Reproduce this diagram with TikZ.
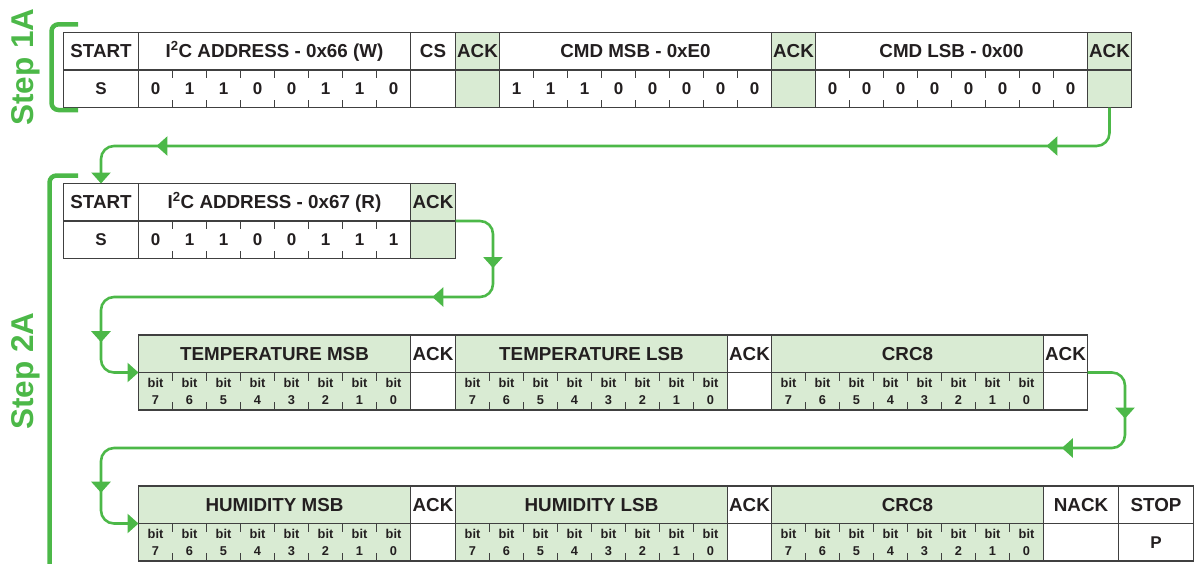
\documentclass[tikz,border=0pt]{standalone}
\usepackage{fontspec}
\setmainfont{Liberation Sans}
\usepackage{xcolor}
\usetikzlibrary{positioning,arrows.meta,calc,decorations.markings}
\definecolor{flowgreen}{HTML}{4CB848}
\definecolor{ackfill}{HTML}{D9EBD3}
\definecolor{rule}{HTML}{404040}
\definecolor{ink}{HTML}{231F20}
\newcommand{\hdr}{\fontsize{18.8}{20}\bfseries}
\newcommand{\valfont}{\fontsize{17}{18}\bfseries}
\newcommand{\bitfont}{\fontsize{12.8}{17}\bfseries}
\newcommand{\stepfont}{\fontsize{31.5}{34}\bfseries}
\newcommand{\bitticks}[1]{%
  \foreach \i in {1,...,7}{
    \draw[tick] ($(#1.north west)+(\i*34,0)$) -- ++(0,-8);
    \draw[tick] ($(#1.south west)+(\i*34,0)$) -- ++(0,8);}}
\newcommand{\bitvals}[2]{%
  \foreach \v [count=\i] in {#2}
    \node[val] (#1-\i) at ($(#1.west)+(\i*34-17,0)$) {\v};
  \bitticks{#1}}
\newcommand{\bitnums}[1]{%
  \foreach \n [count=\i] in {7,6,...,0}
    \node[bitlbl] (#1-\i) at ($(#1.west)+(\i*34-17,0)$) {bit\\\n};
  \bitticks{#1}}
\tikzset{gtip/.tip={Triangle[length=11pt,width=19pt]}}

\begin{document}
\begin{tikzpicture}[x=1pt,y=1pt,
  cell/.style={draw=rule,line width=1.2pt,fill=white,minimum height=37.5pt,inner sep=0pt,outer sep=0pt,text=ink,font=\hdr},
  gcell/.style={cell,fill=ackfill},
  vcell/.style={cell,font=\valfont},
  gvcell/.style={vcell,fill=ackfill},
  val/.style={inner sep=0pt,text=ink,font=\valfont},
  bitlbl/.style={inner sep=0pt,text=ink,font=\bitfont,align=center},
  tick/.style={draw=rule,line width=1.1pt},
  flow/.style={color=flowgreen,line width=2.6pt,rounded corners=13pt,-gtip,postaction={decorate}},
  bracket/.style={draw=flowgreen,line width=4.5pt,rounded corners=7pt},
  steplbl/.style={rotate=90,anchor=base,text=flowgreen,font=\stepfont}]
\useasboundingbox (0,0) rectangle (1194,-563);
% step 1A: write command
\node[cell,anchor=north west,minimum width=75pt] (st1) at (63.5,-32.5) {START};
\node[cell,minimum width=272pt,right=0pt of st1] (adr1) {I\textsuperscript{2}C ADDRESS - 0x66 (W)};
\node[cell,minimum width=45pt,right=0pt of adr1] (cs1) {CS};
\node[gcell,minimum width=44pt,right=0pt of cs1] (ackA) {ACK};
\node[cell,minimum width=272pt,right=0pt of ackA] (msb1) {CMD MSB - 0xE0};
\node[gcell,minimum width=44pt,right=0pt of msb1] (ackB) {ACK};
\node[cell,minimum width=272pt,right=0pt of ackB] (lsb1) {CMD LSB - 0x00};
\node[gcell,minimum width=44pt,right=0pt of lsb1] (ackC) {ACK};
\node[vcell,minimum width=75pt,below=0pt of st1] (st1v) {S};
\node[vcell,minimum width=272pt,below=0pt of adr1] (adr1v) {};
\node[vcell,minimum width=45pt,below=0pt of cs1] (cs1v) {};
\node[gvcell,minimum width=44pt,below=0pt of ackA] (ackAv) {};
\node[vcell,minimum width=272pt,below=0pt of msb1] (msb1v) {};
\node[gvcell,minimum width=44pt,below=0pt of ackB] (ackBv) {};
\node[vcell,minimum width=272pt,below=0pt of lsb1] (lsb1v) {};
\node[gvcell,minimum width=44pt,below=0pt of ackC] (ackCv) {};
\bitvals{adr1v}{0,1,1,0,0,1,1,0}
\bitvals{msb1v}{1,1,1,0,0,0,0,0}
\bitvals{lsb1v}{0,0,0,0,0,0,0,0}
% step 2A: read address
\node[cell,anchor=north west,minimum width=75pt] (st2) at (63.5,-183.5) {START};
\node[cell,minimum width=272pt,right=0pt of st2] (adr2) {I\textsuperscript{2}C ADDRESS - 0x67 (R)};
\node[gcell,minimum width=45pt,right=0pt of adr2] (ack2) {ACK};
\node[vcell,minimum width=75pt,below=0pt of st2] (st2v) {S};
\node[vcell,minimum width=272pt,below=0pt of adr2] (adr2v) {};
\node[gvcell,minimum width=45pt,below=0pt of ack2] (ack2v) {};
\bitvals{adr2v}{0,1,1,0,0,1,1,1}
% temperature bytes
\node[gcell,anchor=north west,minimum width=272pt] (tmsb) at (138.5,-335) {TEMPERATURE MSB};
\node[cell,minimum width=45pt,right=0pt of tmsb] (ackT1) {ACK};
\node[gcell,minimum width=272pt,right=0pt of ackT1] (tlsb) {TEMPERATURE LSB};
\node[cell,minimum width=44pt,right=0pt of tlsb] (ackT2) {ACK};
\node[gcell,minimum width=272pt,right=0pt of ackT2] (crc3) {CRC8};
\node[cell,minimum width=44pt,right=0pt of crc3] (ackT3) {ACK};
\node[gcell,minimum width=272pt,below=0pt of tmsb] (tmsbv) {};
\node[cell,minimum width=45pt,below=0pt of ackT1] (ackT1v) {};
\node[gcell,minimum width=272pt,below=0pt of tlsb] (tlsbv) {};
\node[cell,minimum width=44pt,below=0pt of ackT2] (ackT2v) {};
\node[gcell,minimum width=272pt,below=0pt of crc3] (crc3v) {};
\node[cell,minimum width=44pt,below=0pt of ackT3] (ackT3v) {};
\bitnums{tmsbv}
\bitnums{tlsbv}
\bitnums{crc3v}
% humidity bytes
\node[gcell,anchor=north west,minimum width=272pt] (hmsb) at (138.5,-486) {HUMIDITY MSB};
\node[cell,minimum width=45pt,right=0pt of hmsb] (ackH1) {ACK};
\node[gcell,minimum width=272pt,right=0pt of ackH1] (hlsb) {HUMIDITY LSB};
\node[cell,minimum width=44pt,right=0pt of hlsb] (ackH2) {ACK};
\node[gcell,minimum width=272pt,right=0pt of ackH2] (crc4) {CRC8};
\node[cell,minimum width=75pt,right=0pt of crc4] (nack) {NACK};
\node[cell,minimum width=75pt,right=0pt of nack] (stop) {STOP};
\node[gcell,minimum width=272pt,below=0pt of hmsb] (hmsbv) {};
\node[cell,minimum width=45pt,below=0pt of ackH1] (ackH1v) {};
\node[gcell,minimum width=272pt,below=0pt of hlsb] (hlsbv) {};
\node[cell,minimum width=44pt,below=0pt of ackH2] (ackH2v) {};
\node[gcell,minimum width=272pt,below=0pt of crc4] (crc4v) {};
\node[cell,minimum width=75pt,below=0pt of nack] (nackv) {};
\node[vcell,minimum width=75pt,below=0pt of stop] (stopv) {P};
\bitnums{hmsbv}
\bitnums{hlsbv}
\bitnums{crc4v}
% turning points
\coordinate (turn2) at ($(st2v.south)+(0,-38.5)$);
\coordinate (turn3) at ($(tmsbv.south west)+(-37.5,-38)$);
% flow
\draw[flow,decoration={markings,
    mark=at position 96pt with {\arrow{gtip}},
    mark=at position 986pt with {\arrow{gtip}}}]
  (ackCv.south) -- ++(0,-38.5) -| (st2.north);
\draw[flow,decoration={markings,
    mark=at position 79pt with {\arrow{gtip}},
    mark=at position 163pt with {\arrow{gtip}},
    mark=at position 534pt with {\arrow{gtip}}}]
  (ack2.south east) -- ++(37.5,0) |- (turn2) |- (tmsb.south west);
\draw[flow,decoration={markings,
    mark=at position 78pt with {\arrow{gtip}},
    mark=at position 165pt with {\arrow{gtip}},
    mark=at position 1165pt with {\arrow{gtip}}}]
  (ackT3.south east) -- ++(37.5,0) |- (turn3) |- (hmsb.south west);
% step brackets
\draw[bracket] (78,-24.3) -- (51.5,-24.3) -- (51.5,-110) -- (78,-110);
\draw[bracket] (78,-175.5) -- (49.5,-175.5) -- (49.5,-575);
\node[steplbl] (step1) at (33.5,-67) {Step 1A};
\node[steplbl] (step2) at (33.5,-371) {Step 2A};
\end{tikzpicture}
\end{document}
